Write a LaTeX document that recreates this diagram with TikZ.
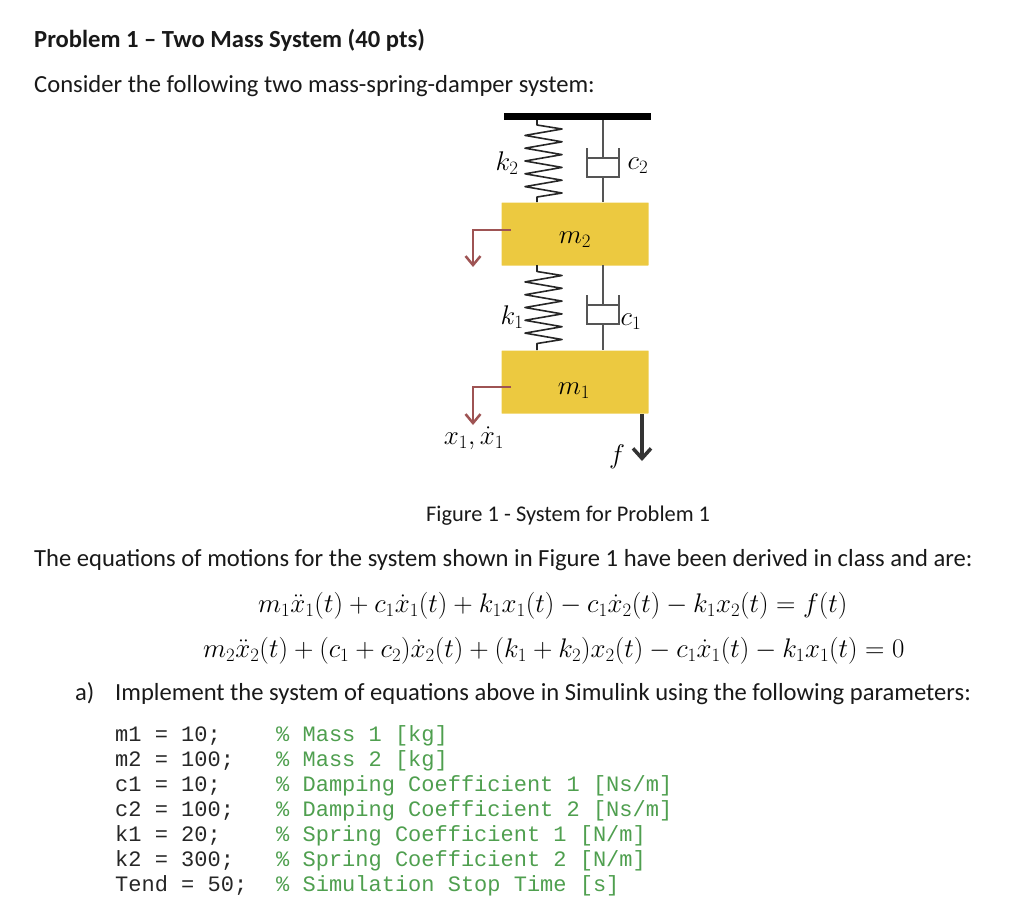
\documentclass[tikz,border=0pt]{standalone}
\usepackage{fix-cm}
\usepackage{fontspec}
\setmainfont{Carlito}
\setmonofont{Liberation Mono}
\usetikzlibrary{arrows.meta,calc}
\definecolor{massyellow}{HTML}{ECC940}
\definecolor{rodgray}{HTML}{555555}
\definecolor{arrowred}{HTML}{9E5353}
\definecolor{commentgreen}{HTML}{4F9F4F}
\tikzset{
  para/.style = {anchor=base west, inner sep=0pt, font=\fontsize{24.6}{28}\selectfont, text=black!90},
  eqn/.style = {anchor=base west, inner sep=0pt, font=\fontsize{26.9}{28}\selectfont},
  code/.style = {anchor=base west, inner sep=0pt, font=\fontsize{22}{25}\selectfont\ttfamily, text=black!85},
  cmt/.style = {code, text=commentgreen},
  mass/.style = {fill=massyellow, minimum width=147pt, minimum height=63pt, inner sep=0pt, rounded corners=0.5pt},
  lbl/.style = {inner sep=0pt, font=\fontsize{27}{30}\selectfont},
  spring/.style = {draw=black!85, line width=1.6pt, line join=round},
  rod/.style = {draw=rodgray, line width=2pt},
  pointer/.style = {draw=arrowred, line width=2.5pt, -{Straight Barb[length=9pt,width=15pt]}},
}
% zigzag between two named points, peaks around their middle
\newcommand{\drawspring}[2]{
  \draw[spring] (#1) -- ($(#1)!0.5!(#2)+(0,36)$) -- ($(#1)!0.5!(#2)+(25,32)$)
    \foreach \i in {1,...,5} { -- ++(-37,-6.4) -- ++(37,-6.4) }
    -- ($(#1)!0.5!(#2)+(0,-36)$) -- (#2);
}
% cup and piston, #3 is the cup top seen from the upper point
\newcommand{\drawdamper}[3]{
  \draw[rod] (#1) -- ($(#1)+(0,-#3-10)$);
  \draw[rod] ($(#1)+(-16,-#3)$) -- ($(#1)+(-16,-#3-29)$) -- ($(#1)+(16,-#3-29)$) -- ($(#1)+(16,-#3)$);
  \draw[rod] ($(#1)+(-16,-#3-10)$) -- ($(#1)+(16,-#3-10)$);
  \draw[rod] ($(#1)+(0,-#3-29)$) -- (#2);
}
\begin{document}
\begin{tikzpicture}[x=1pt, y=1pt]
\useasboundingbox (0,0) rectangle (1024,-914);

\node[para] (title) at (34,-47) {\bfseries Problem 1 -- Two Mass System (40 pts)};
\node[para] (intro) at (34,-92) {Consider the following two mass-spring-damper system:};

\node[fill=black, minimum width=147pt, minimum height=7pt, inner sep=0pt] (ceiling) at (577.5,-116.5) {};
\node[mass] (m2) at (575,-234) {};
\node[mass] (m1) at (575,-382) {};

\coordinate (k2top) at (537,-120);
\coordinate (k2bot) at (537,-202);
\coordinate (c2top) at (603,-120);
\coordinate (c2bot) at (603,-202);
\coordinate (k1top) at (537,-265);
\coordinate (k1bot) at (537,-350);
\coordinate (c1top) at (603,-265);
\coordinate (c1bot) at (603,-350);
\coordinate (x2start) at (511,-230);
\coordinate (x2bend) at (473,-230);
\coordinate (x2end) at (473,-267);
\coordinate (x1start) at (511,-387);
\coordinate (x1bend) at (473,-387);
\coordinate (x1end) at (473,-425);
\coordinate (fstart) at (642,-414);
\coordinate (fend) at (642,-461);

\drawspring{k2top}{k2bot}
\drawspring{k1top}{k1bot}
\drawdamper{c2top}{c2bot}{28}
\drawdamper{c1top}{c1bot}{30}

\draw[pointer] (x2start) -- (x2bend) -- (x2end);
\draw[pointer] (x1start) -- (x1bend) -- (x1end);
\draw[draw=black!80, line width=3.5pt, -{Straight Barb[length=10pt,width=18pt]}] (fstart) -- (fend);

\node[lbl] (m2lbl) at (575,-240) {$m_2$};
\node[lbl] (m1lbl) at (574,-391) {$m_1$};
\node[lbl] (k2lbl) at (507,-163) {$k_2$};
\node[lbl] (c2lbl) at (638,-166) {$c_2$};
\node[lbl] (k1lbl) at (512,-317) {$k_1$};
\node[lbl] (c1lbl) at (631,-322) {$c_1$};
\node[lbl] (xlbl) at (474,-438) {$x_1,\dot{x}_1$};
\node[lbl] (flbl) at (617,-457) {$f$};

\node[para, font=\fontsize{22.4}{28}\selectfont] (caption) at (426,-521) {Figure 1 - System for Problem 1};
\node[para] (derived) at (34,-566) {The equations of motions for the system shown in Figure 1 have been derived in class and are:};
\node[eqn] (eq1) at (258,-612) {$m_1\ddot{x}_1(t)+c_1\dot{x}_1(t)+k_1x_1(t)-c_1\dot{x}_2(t)-k_1x_2(t)=f(t)$};
\node[eqn] (eq2) at (203,-657) {$m_2\ddot{x}_2(t)+(c_1+c_2)\dot{x}_2(t)+(k_1+k_2)x_2(t)-c_1\dot{x}_1(t)-k_1x_1(t)=0$};
\node[para] (parta) at (75,-700) {a)};
\node[para] (partatext) at (115,-700) {Implement the system of equations above in Simulink using the following parameters:};

\node[code] (p1) at (115,-741) {m1 = 10;};
\node[code] (p2) at (115,-766) {m2 = 100;};
\node[code] (p3) at (115,-791) {c1 = 10;};
\node[code] (p4) at (115,-816) {c2 = 100;};
\node[code] (p5) at (115,-841) {k1 = 20;};
\node[code] (p6) at (115,-866) {k2 = 300;};
\node[code] (p7) at (115,-891) {Tend = 50;};
\node[cmt] (n1) at (276,-741) {\% Mass 1 [kg]};
\node[cmt] (n2) at (276,-766) {\% Mass 2 [kg]};
\node[cmt] (n3) at (276,-791) {\% Damping Coefficient 1 [Ns/m]};
\node[cmt] (n4) at (276,-816) {\% Damping Coefficient 2 [Ns/m]};
\node[cmt] (n5) at (276,-841) {\% Spring Coefficient 1 [N/m]};
\node[cmt] (n6) at (276,-866) {\% Spring Coefficient 2 [N/m]};
\node[cmt] (n7) at (276,-891) {\% Simulation Stop Time [s]};
\end{tikzpicture}
\end{document}
